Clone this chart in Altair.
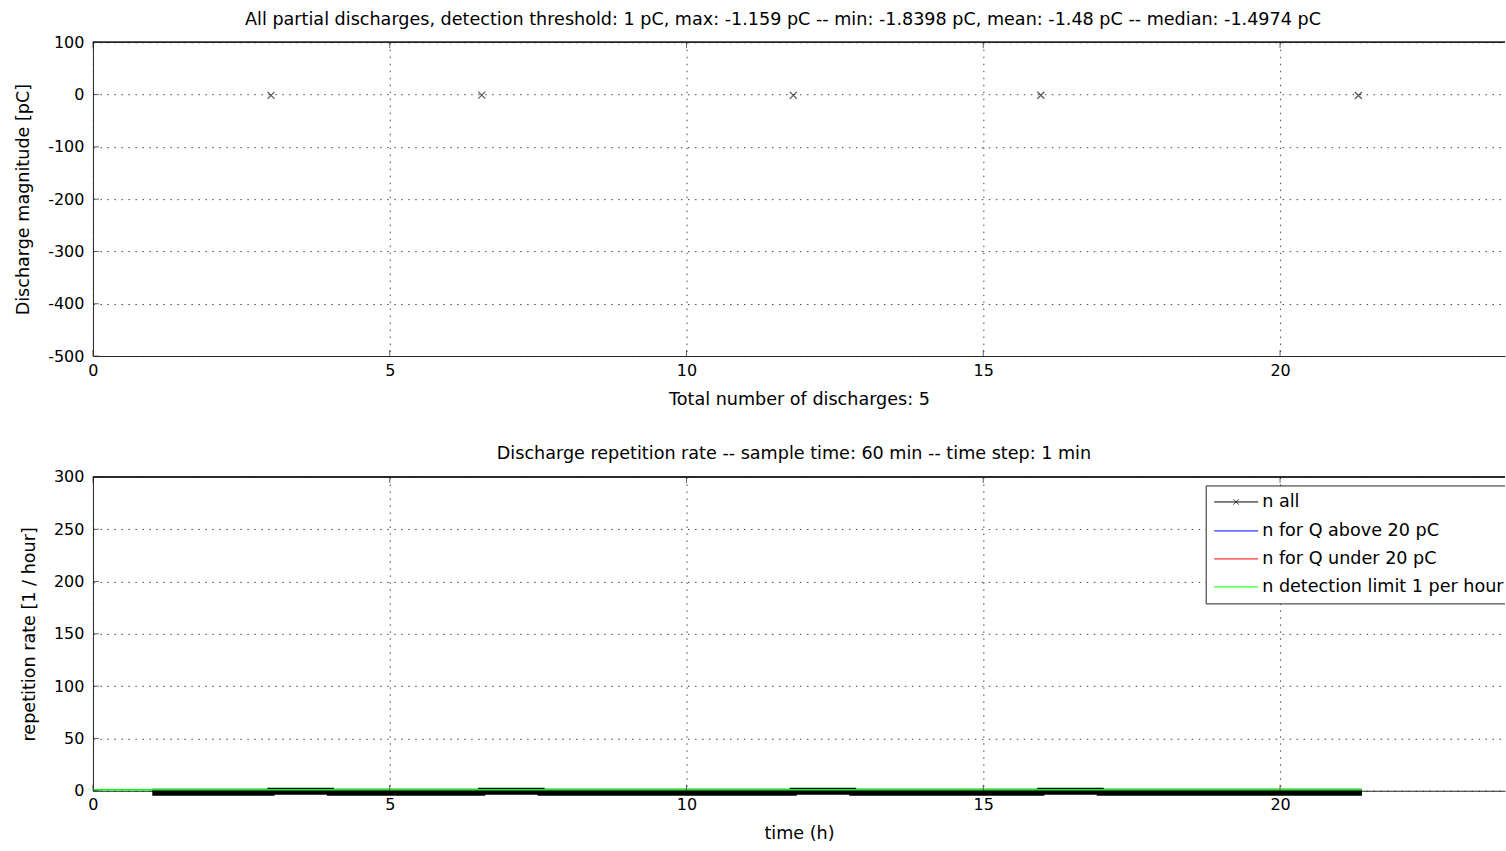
import altair as alt
import pandas as pd

# ---------------- data ----------------
# top panel: individual discharges (time in h, magnitude in pC)
event_time = [3.0, 6.55, 11.8, 15.97, 21.32]
event_q = [-1.4974, -1.159, -1.6, -1.3038, -1.8398]

# bottom panel: repetition rate step lines
nall_t = [1.0, 3.0, 3.0, 4.0, 4.0, 6.55, 6.55, 7.55, 7.55, 11.8, 11.8, 12.8, 12.8,
          15.97, 15.97, 16.97, 16.97, 21.38]
nall_n = [0, 0, 1, 1, 0, 0, 1, 1, 0, 0, 1, 1, 0, 0, 1, 1, 0, 0]
above_t = [1.0, 21.38]
above_n = [0, 0]
limit_t = [0.0, 21.38]
limit_n = [1, 1]

x_ticks = [0, 5, 10, 15, 20]
top_y_ticks = [-500, -400, -300, -200, -100, 0, 100]
bot_y_ticks = [0, 50, 100, 150, 200, 250, 300]

legend_labels = ["n all", "n for Q above 20 pC", "n for Q under 20 pC",
                 "n detection limit 1 per hour"]
legend_colors = ["#000000", "#0000ff", "#ff0000", "#00ff00"]

top_title = ("All partial discharges, detection threshold: 1 pC, max: -1.159 pC -- "
             "min: -1.8398 pC, mean: -1.48 pC -- median: -1.4974 pC")
bot_title = "Discharge repetition rate -- sample time: 60 min -- time step: 1 min"

# ---------------- layout ----------------
W = 1413
H = 314
XMAX = 23.79
FONT = "DejaVu Sans"
FS = 17.6
LFS = 16
AX = "#262626"
GRID = "#444444"
X_SHAPE = "M-1,-1L1,1M-1,1L1,-1"

xscale = alt.Scale(domain=[0, XMAX], nice=False, zero=False)
yscale_top = alt.Scale(domain=[-500, 100], nice=False)
yscale_bot = alt.Scale(domain=[0, 300], nice=False)


def xaxis(title):
    return alt.Axis(values=x_ticks, title=title, tickSize=0, labelPadding=6,
                    titlePadding=12, grid=True, gridDash=[1.5, 5.5], gridColor=GRID,
                    gridOpacity=1, domainColor=AX, labelFont=FONT, titleFont=FONT,
                    labelFontSize=LFS, titleFontSize=FS, labelColor="black",
                    titleColor="black", titleFontWeight="normal", labelFlush=False,
                    labelExpr="'' + datum.value")


def yaxis(title, vals):
    return alt.Axis(values=vals, title=title, tickSize=0, labelPadding=9,
                    titlePadding=15, grid=True, gridDash=[1.5, 5.5], gridColor=GRID,
                    gridOpacity=1, domainColor=AX, labelFont=FONT, titleFont=FONT,
                    labelFontSize=LFS, titleFontSize=FS, labelColor="black",
                    titleColor="black", titleFontWeight="normal",
                    labelExpr="'' + datum.value")


def frame(yticks, yscale):
    tx = pd.DataFrame({"t": x_ticks})
    ty = pd.DataFrame({"v": yticks})
    top_rule = alt.Chart(tx).mark_rule(color=AX, strokeWidth=1).encode(
        x=alt.value(0), x2=alt.value(W), y=alt.value(0))
    bt = alt.Chart(tx).mark_tick(size=6, thickness=1, color=AX).encode(
        x=alt.X("t:Q", scale=xscale), y=alt.value(H - 3))
    tt = alt.Chart(tx).mark_tick(size=6, thickness=1, color=AX).encode(
        x=alt.X("t:Q", scale=xscale), y=alt.value(3))
    lt = alt.Chart(ty).mark_tick(size=6, thickness=1, color=AX).encode(
        y=alt.Y("v:Q", scale=yscale), x=alt.value(3))
    return [top_rule, bt, tt, lt]


# ---------------- top panel ----------------
df_ev = pd.DataFrame({"t": event_time, "q": event_q})
pts = alt.Chart(df_ev).mark_point(shape=X_SHAPE, size=49, filled=False,
                                  strokeWidth=1.2, color="#111111").encode(
    x=alt.X("t:Q", scale=xscale, axis=xaxis("Total number of discharges: 5")),
    y=alt.Y("q:Q", scale=yscale_top, axis=yaxis("Discharge magnitude [pC]", top_y_ticks)),
)
top = alt.layer(pts, *frame(top_y_ticks, yscale_top)).properties(
    width=W, height=H,
    title=alt.TitleParams(top_title, font=FONT, fontSize=FS, fontWeight="normal",
                          color="black", anchor="middle", offset=6, dx=-16),
)

# ---------------- bottom panel ----------------
df_all = pd.DataFrame({"t": nall_t, "n": nall_n, "i": list(range(len(nall_t)))})
df_above = pd.DataFrame({"t": above_t, "n": above_n, "i": [0, 1]})
df_limit = pd.DataFrame({"t": limit_t, "n": limit_n, "i": [0, 1]})

xenc = alt.X("t:Q", scale=xscale, axis=xaxis("time (h)"))
yenc = alt.Y("n:Q", scale=yscale_bot, axis=yaxis("repetition rate [1 / hour]", bot_y_ticks))

blue = alt.Chart(df_above).mark_line(color="#0000ff", strokeWidth=1).encode(
    x=xenc, y=yenc, order="i:Q")
red = alt.Chart(df_all).mark_line(color="#ff0000", strokeWidth=1).encode(
    x=xenc, y=yenc, order="i:Q")
black = alt.Chart(df_all).mark_line(color="#000000", strokeWidth=7, yOffset=1.5,
                                    strokeJoin="miter", strokeCap="butt").encode(
    x=xenc, y=yenc, order="i:Q")
green = alt.Chart(df_limit).mark_line(color="#00ff00", strokeWidth=1.5).encode(
    x=xenc, y=yenc, order="i:Q")

# legend (drawn in pixel space inside the plot)
LX0, LY0, LY1 = 1114, 9, 127
row_y = [25, 54, 82, 110]
df_leg = pd.DataFrame({"label": legend_labels, "color": legend_colors, "y": row_y})
leg_bg = alt.Chart(df_leg.head(1)).mark_rect(fill="white", stroke=None).encode(
    x=alt.value(LX0), x2=alt.value(W), y=alt.value(LY0), y2=alt.value(LY1))
leg_top = alt.Chart(df_leg.head(1)).mark_rule(color=AX).encode(
    x=alt.value(LX0), x2=alt.value(W), y=alt.value(LY0))
leg_bot = alt.Chart(df_leg.head(1)).mark_rule(color=AX).encode(
    x=alt.value(LX0), x2=alt.value(W), y=alt.value(LY1))
leg_left = alt.Chart(df_leg.head(1)).mark_rule(color=AX).encode(
    x=alt.value(LX0), y=alt.value(LY0), y2=alt.value(LY1))
leg_lines = []
leg_marks = []
for lab, col, yy in zip(legend_labels, legend_colors, row_y):
    d = pd.DataFrame({"label": [lab]})
    leg_lines.append(alt.Chart(d).mark_rule(color=col, strokeWidth=1).encode(
        x=alt.value(LX0 + 8), x2=alt.value(LX0 + 52), y=alt.value(yy)))
    leg_marks.append(alt.Chart(d).mark_text(align="left", baseline="middle",
                                            font=FONT, fontSize=FS, color="black").encode(
        x=alt.value(LX0 + 56), y=alt.value(yy), text="label:N"))
leg_x = alt.Chart(pd.DataFrame({"label": [legend_labels[0]]})).mark_point(
    shape=X_SHAPE, size=30, filled=False, strokeWidth=1, color="black").encode(
    x=alt.value(LX0 + 30), y=alt.value(row_y[0]))

bottom = alt.layer(blue, red, black, green, *frame(bot_y_ticks, yscale_bot),
                   leg_bg, leg_top, leg_bot, leg_left, *leg_lines, leg_x,
                   *leg_marks).properties(
    width=W, height=H,
    title=alt.TitleParams(bot_title, font=FONT, fontSize=FS, fontWeight="normal",
                          color="black", anchor="middle", offset=6, dx=-5),
)

chart = alt.vconcat(top, bottom, spacing=37).configure(
    padding={"left": 14, "top": 10, "right": 0, "bottom": 0},
    background="white",
).configure_view(stroke=None)

chart.save("out.html", embed_options={"renderer": "svg", "actions": False})
